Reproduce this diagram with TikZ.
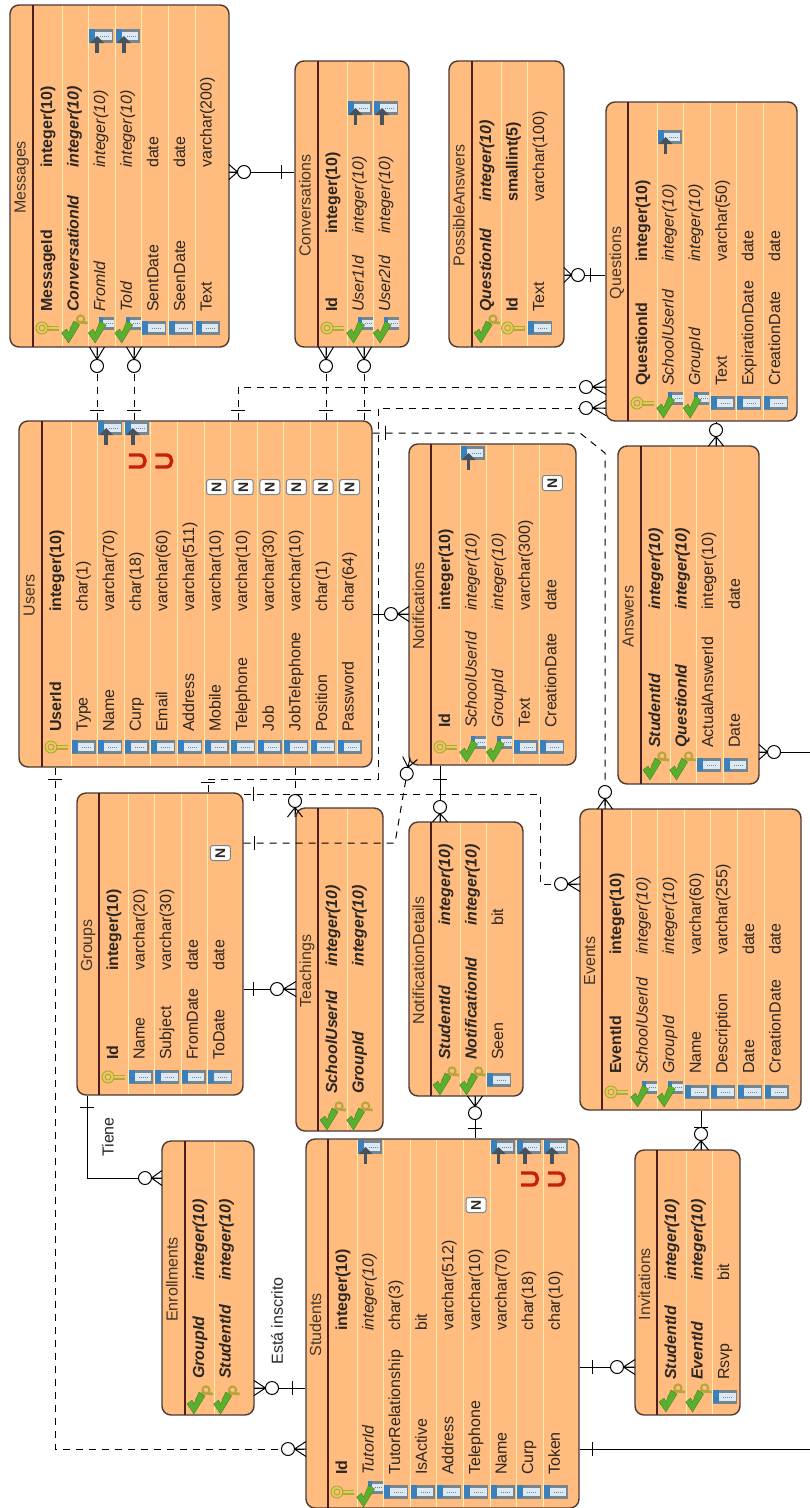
\documentclass[tikz,border=0pt]{standalone}
\usepackage{fontspec}
\setmainfont{Liberation Sans}
\definecolor{entfill}{HTML}{FFBC7E}
\definecolor{entline}{HTML}{4A3A35}
\definecolor{hdrline}{HTML}{4A1F22}
\definecolor{sepline}{HTML}{FFEFB0}
\definecolor{txt}{HTML}{2B2622}
\definecolor{titletxt}{HTML}{3F352C}
\definecolor{icoblue}{HTML}{3A80BC}
\definecolor{icoedge}{HTML}{76868F}
\definecolor{icolight}{HTML}{DCE8F4}
\definecolor{checkgreen}{HTML}{5BAF2E}
\definecolor{keyyellow}{HTML}{E0D05A}
\definecolor{keyolive}{HTML}{B4A63C}
\definecolor{fkarrow}{HTML}{47535C}
\definecolor{magred}{HTML}{C4200C}
\tikzset{
  ent/.style={draw=entline,fill=entfill,line width=1.4pt,rounded corners=9pt,inner sep=0pt,rectangle},
  hdr/.style={draw=hdrline,line width=1.2pt},
  sepl/.style={draw=sepline,line width=.8pt},
  rowtxt/.style={rotate=90,anchor=west,inner sep=0pt,text height=11.5pt,text depth=3.5pt,font=\fontsize{16}{18}\selectfont,text=txt},
  ttl/.style={rotate=90,inner sep=0pt,text height=11.5pt,text depth=3.5pt,font=\fontsize{16}{18}\selectfont,text=titletxt},
  rel/.style={draw=black,line width=1pt},
  reld/.style={rel,dash pattern=on 7pt off 6pt},
  marktick/.style={draw=black,line width=1pt},
  lbl/.style={rotate=90,inner sep=0pt,font=\fontsize{16}{18}\selectfont,text=txt}
}
% icons
\newcommand\icocol[2]{\begin{scope}[shift={(#1,#2)}]
  \fill[icoedge] (-12,-7) rectangle (12,7);
  \fill[icoblue] (-12,-7) rectangle (-6,6);
  \fill[icolight] (-6,-4.5) rectangle (10.5,3.5);
  \draw[icoedge,line width=1pt,dash pattern=on 1pt off 1pt] (-2,0) -- (8,0);
\end{scope}}
\newcommand\icokey[2]{\begin{scope}[shift={(#1,#2)}]
  \draw[keyolive,line width=5pt] (-2,0) -- (11,0);
  \draw[keyyellow,line width=2.4pt] (-2,0) -- (10.5,0);
  \draw[keyyellow,line width=3pt] (-6,0) circle (4.4);
  \draw[keyolive,line width=1pt] (-6,0) circle (6);
  \draw[keyolive,line width=1pt] (-6,0) circle (2.9);
\end{scope}}
\newcommand\icocheck{\fill[checkgreen,draw=checkgreen!70!black,line width=.3pt] (-6,15) -- (-13,5) -- (-8,1) -- (-6,5) -- (-1,-7) -- (5,-3) -- cycle;}
\newcommand\icocf[2]{\begin{scope}[shift={(#1,#2)}]
  \fill[icoedge] (-2,-11) rectangle (13,2);
  \fill[icoblue] (-2,-11) rectangle (2,1);
  \fill[icolight] (2,-8) rectangle (13,-1);
  \draw[icoedge,line width=1pt,dash pattern=on 1pt off 1pt] (5,-4.5) -- (12,-4.5);
  \icocheck
\end{scope}}
\newcommand\icopf[2]{\begin{scope}[shift={(#1,#2)}]
  \draw[keyolive,line width=3.4pt] (-4,1) -- (4,-7);
  \draw[keyolive,line width=2.8pt] (4,-6) -- (13,-5);
  \draw[keyolive,line width=2pt] (6,-9) circle (3.6);
  \icocheck
\end{scope}}
\newcommand\icofk[2]{\begin{scope}[shift={(#1,#2)}]
  \fill[icoedge] (-12,-7) rectangle (12,7);
  \fill[icoblue] (-12,-7) rectangle (-6,6);
  \fill[icolight] (-6,-4.5) rectangle (10.5,3.5);
  \draw[icoedge,line width=1pt,dash pattern=on 1pt off 1pt] (-1,0) -- (8,0);
  \draw[fkarrow,line width=3.6pt] (-4,17) -- (-4,4);
  \fill[fkarrow] (-4,0) -- (-11,7) -- (3,7) -- cycle;
\end{scope}}
\newcommand\icomag[2]{\begin{scope}[shift={(#1,#2)}]
  \draw[magred,line width=3.4pt] (-8,-6) -- (3,-6) .. controls (10,-6) and (10,6) .. (3,6) -- (-8,6);
\end{scope}}
\newcommand\iconull[2]{\begin{scope}[shift={(#1,#2)}]
  \draw[fill=white,draw=icoedge,line width=1pt,rounded corners=2.5pt] (-10,-7.5) rectangle (10,7.5);
  \node[rotate=90,inner sep=0pt,text=txt,font=\fontsize{14}{14}\selectfont\bfseries] at (0,0) {N};
\end{scope}}
% entity: name,x0,y0,x1,y1,hx,rows,title
\newcommand\entity[8]{%
  \node[ent,minimum width={(#4-#2)*1pt},minimum height={(#5-#3)*1pt}] (#1) at ({(#2+#4)/2},{(#3+#5)/2}) {};
  \draw[hdr] (#6,#3) -- (#6,#5);
  \foreach \i in {1,...,#7} {\ifnum\i<#7\relax \draw[sepl] ({#6+29+26.6*(\i-1)},#3+0.8) -- ({#6+29+26.6*(\i-1)},#5-0.8);\fi}
  \node[ttl] at ({(#2+#6)/2},{(#3+#5)/2+1.5}) {#8};
  \def\curhx{#6}%
}
\newcommand\bases[3]{\def\nbpos{#1}\def\tbpos{#2}\def\ibpos{#3}}
\newcommand\rowx[1]{\curhx+15+26.6*(#1-1)}
\newcommand\rowP[3]{\pgfmathsetmacro\xx{\rowx{#1}}\icokey{\xx}{\ibpos}\node[rowtxt,font=\fontsize{16}{18}\selectfont\bfseries] at (\xx,\nbpos) {#2};\node[rowtxt,font=\fontsize{16}{18}\selectfont\bfseries] at (\xx,\tbpos) {#3};}
\newcommand\rowB[3]{\pgfmathsetmacro\xx{\rowx{#1}}\icopf{\xx}{\ibpos}\node[rowtxt,font=\fontsize{16}{18}\selectfont\bfseries\itshape] at (\xx,\nbpos) {#2};\node[rowtxt,font=\fontsize{16}{18}\selectfont\bfseries\itshape] at (\xx,\tbpos) {#3};}
\newcommand\rowF[3]{\pgfmathsetmacro\xx{\rowx{#1}}\icocf{\xx}{\ibpos}\node[rowtxt,font=\fontsize{16}{18}\selectfont\itshape] at (\xx,\nbpos) {#2};\node[rowtxt,font=\fontsize{16}{18}\selectfont\itshape] at (\xx,\tbpos) {#3};}
\newcommand\rowC[3]{\pgfmathsetmacro\xx{\rowx{#1}}\icocol{\xx}{\ibpos}\node[rowtxt] at (\xx,\nbpos) {#2};\node[rowtxt] at (\xx,\tbpos) {#3};}
\newcommand\topfk[2]{\pgfmathsetmacro\xx{\rowx{#1}}\icofk{\xx}{#2}}
\newcommand\topu[2]{\pgfmathsetmacro\xx{\rowx{#1}}\icomag{\xx}{#2}}
\newcommand\topn[2]{\pgfmathsetmacro\xx{\rowx{#1}}\iconull{\xx}{#2}}
% crow: x,y,angle,dist
\newcommand\crow[4]{\begin{scope}[shift={(#1,#2)},rotate=#3]
  \pgfmathsetmacro\apexd{#4-6.5}
  \draw[rel] (0,7.5) -- (\apexd,0) -- (0,-7.5) (0,0) -- (\apexd,0);
  \draw[rel,fill=white] (#4,0) circle (6.5);
\end{scope}}
\newcommand\tickv[2]{\draw[marktick] (#1,#2-7) -- (#1,#2+7);}
\newcommand\tickh[2]{\draw[marktick] (#1-7,#2) -- (#1+7,#2);}
\begin{document}
\begin{tikzpicture}[x=1pt,y=-1pt]
\useasboundingbox[fill=white] (0,0) rectangle (810,1508);
% ---------- Entities
\entity{Messages}{10}{5}{229}{347}{33}{7}{Messages}
\bases{312}{168}{328}
\rowP{1}{MessageId}{integer(10)}
\rowB{2}{ConversationId}{integer(10)}
\rowF{3}{FromId}{integer(10)}
\rowF{4}{ToId}{integer(10)}
\rowC{5}{SentDate}{date}
\rowC{6}{SeenDate}{date}
\rowC{7}{Text}{varchar(200)}
\topfk{3}{36}\topfk{4}{36}

\entity{Conversations}{295}{61}{409}{347}{318}{3}{Conversations}
\bases{312}{234}{328}
\rowP{1}{Id}{integer(10)}
\rowF{2}{User1Id}{integer(10)}
\rowF{3}{User2Id}{integer(10)}
\topfk{2}{108}\topfk{3}{108}

\entity{PossibleAnswers}{449}{61}{564}{347}{472}{3}{PossibleAnswers}
\bases{312}{202}{328}
\rowB{1}{QuestionId}{integer(10)}
\rowP{2}{Id}{smallint(5)}
\rowC{3}{Text}{varchar(100)}

\entity{Questions}{606}{102}{797}{421}{628}{6}{Questions}
\bases{386}{262}{403}
\rowP{1}{QuestionId}{integer(10)}
\rowF{2}{SchoolUserId}{integer(10)}
\rowF{3}{GroupId}{integer(10)}
\rowC{4}{Text}{varchar(50)}
\rowC{5}{ExpirationDate}{date}
\rowC{6}{CreationDate}{date}
\topfk{2}{137}

\entity{Users}{19}{421}{372}{767}{42}{12}{Users}
\bases{732}{612}{747}
\rowP{1}{UserId}{integer(10)}
\rowC{2}{Type}{char(1)}
\rowC{3}{Name}{varchar(70)}
\rowC{4}{Curp}{char(18)}
\rowC{5}{Email}{varchar(60)}
\rowC{6}{Address}{varchar(511)}
\rowC{7}{Mobile}{varchar(10)}
\rowC{8}{Telephone}{varchar(10)}
\rowC{9}{Job}{varchar(30)}
\rowC{10}{JobTelephone}{varchar(10)}
\rowC{11}{Position}{char(1)}
\rowC{12}{Password}{char(64)}
\topfk{3}{428}\topfk{4}{428}
\topu{4}{461}\topu{5}{461}
\topn{7}{487}\topn{8}{487}\topn{9}{487}\topn{10}{487}\topn{11}{487}\topn{12}{487}

\entity{Notifications}{409}{444}{576}{765}{431}{5}{Notifications}
\bases{728}{611}{747}
\rowP{1}{Id}{integer(10)}
\rowF{2}{SchoolUserId}{integer(10)}
\rowF{3}{GroupId}{integer(10)}
\rowC{4}{Text}{varchar(300)}
\rowC{5}{CreationDate}{date}
\topfk{2}{453}\topn{5}{483}

\entity{Answers}{618}{446}{759}{784}{641}{4}{Answers}
\bases{748}{610}{765}
\rowB{1}{StudentId}{integer(10)}
\rowB{2}{QuestionId}{integer(10)}
\rowC{3}{ActualAnswerId}{integer(10)}
\rowC{4}{Date}{date}

\entity{Groups}{77}{793}{243}{1095}{99}{5}{Groups}
\bases{1060}{971}{1077}
\rowP{1}{Id}{integer(10)}
\rowC{2}{Name}{varchar(20)}
\rowC{3}{Subject}{varchar(30)}
\rowC{4}{FromDate}{date}
\rowC{5}{ToDate}{date}
\topn{5}{853}

\entity{Teachings}{296}{808}{383}{1131}{318}{2}{Teachings}
\bases{1094}{967}{1115}
\rowB{1}{SchoolUserId}{integer(10)}
\rowB{2}{GroupId}{integer(10)}

\entity{NotificationDetails}{409}{822}{523}{1096}{431}{3}{NotificationDetails}
\bases{1060}{926}{1080}
\rowB{1}{StudentId}{integer(10)}
\rowB{2}{NotificationId}{integer(10)}
\rowC{3}{Seen}{bit}

\entity{Events}{580}{809}{801}{1110}{602}{7}{Events}
\bases{1074}{955}{1092}
\rowP{1}{EventId}{integer(10)}
\rowF{2}{SchoolUserId}{integer(10)}
\rowF{3}{GroupId}{integer(10)}
\rowC{4}{Name}{varchar(60)}
\rowC{5}{Description}{varchar(255)}
\rowC{6}{Date}{date}
\rowC{7}{CreationDate}{date}

\entity{Enrollments}{162}{1141}{254}{1415}{185}{2}{Enrollments}
\bases{1379}{1281}{1399}
\rowB{1}{GroupId}{integer(10)}
\rowB{2}{StudentId}{integer(10)}

\entity{Students}{306}{1139}{579}{1508}{328}{9}{Students}
\bases{1475}{1331}{1492}
\rowP{1}{Id}{integer(10)}
\rowF{2}{TutorId}{integer(10)}
\rowC{3}{TutorRelationship}{char(3)}
\rowC{4}{IsActive}{bit}
\rowC{5}{Address}{varchar(512)}
\rowC{6}{Telephone}{varchar(10)}
\rowC{7}{Name}{varchar(70)}
\rowC{8}{Curp}{char(18)}
\rowC{9}{Token}{char(10)}
\topfk{2}{1147}\topfk{7}{1147}\topfk{8}{1147}\topfk{9}{1147}
\topu{8}{1179}\topu{9}{1179}
\topn{6}{1205}

\entity{Invitations}{635}{1150}{740}{1415}{657}{3}{Invitations}
\bases{1380}{1281}{1397}
\rowB{1}{StudentId}{integer(10)}
\rowB{2}{EventId}{integer(10)}
\rowC{3}{Rsvp}{bit}

% ---------- Connectors
\coordinate (exitAnswers) at (810,752);
\coordinate (exitStudents) at (810,1449);
\draw[rel] (Messages.east |- 0,172) -- (Conversations.west |- 0,172);
\crow{229}{172}{0}{15}\tickv{281}{172}

\draw[reld] (97,0 |- Messages.south) -- (97,0 |- Users.north);
\crow{97}{347}{270}{19}\tickh{97}{410}
\draw[reld] (134,0 |- Messages.south) -- (134,0 |- Users.north);
\crow{134}{347}{270}{19}\tickh{134}{410}
\draw[reld] (326,0 |- Conversations.south) -- (326,0 |- Users.north);
\crow{326}{347}{270}{19}\tickh{326}{410}
\draw[reld] (364,0 |- Conversations.south) -- (364,0 |- Users.north);
\crow{364}{347}{270}{19}\tickh{364}{410}

\draw[reld] (238,0 |- Users.north) -- (238,387) -- (Questions.west |- 0,387);
\tickh{238}{410}\crow{606}{387}{180}{20}

\draw[reld] (208,0 |- Groups.north) -- (208,779) -- (378,779) -- (378,408) -- (Questions.west |- 0,408);
\tickh{208}{782}\crow{606}{408}{180}{20}

\draw[reld] (Users.east |- 0,433) -- (580,433) -- (605,453) -- (605,0 |- Events.north);
\tickv{385}{433}\crow{605}{809}{90}{17}

\draw[rel] (Users.east |- 0,614) -- (Notifications.west |- 0,614);
\draw[marktick] (378,610) -- (378,618);
\crow{409}{614}{180}{18}

\draw[reld] (55,0 |- Users.south) -- (55,1449) -- (Students.west |- 0,1449);
\tickh{55}{779}\crow{306}{1449}{180}{18}

\draw[reld] (295,0 |- Users.south) -- (295,817);
\tickh{295}{779}\crow{295}{817}{90}{16}

\draw[reld] (Groups.east |- 0,794) -- (540,794) -- (540,884) -- (Events.west |- 0,884);
\tickv{253}{794}\crow{580}{884}{180}{19}

\draw[reld] (Groups.east |- 0,843) -- (395,843) -- (407,773);
\tickv{254}{843}\crow{410}{758}{258}{16}

\draw[rel] (Groups.east |- 0,989) -- (Teachings.west |- 0,989);
\tickv{253}{989}\crow{296}{989}{180}{19}

\draw[rel] (440,0 |- Notifications.south) -- (440,0 |- NotificationDetails.north);
\tickh{440}{779}\crow{440}{822}{90}{15}

\draw[rel] (475,0 |- NotificationDetails.south) -- (475,0 |- Students.north);
\crow{475}{1096}{270}{17}\tickh{475}{1128}

\draw[rel] (701,0 |- Events.south) -- (701,0 |- Invitations.north);
\tickh{701}{1127}\crow{701}{1150}{90}{16}

\draw[rel] (Students.east |- 0,1367) -- (Invitations.west |- 0,1367);
\tickv{592}{1367}\crow{635}{1367}{180}{18}

\draw[rel] (Students.east |- 0,1449) -- (exitStudents);
\tickv{592}{1449}

\draw[rel] (Answers.east |- 0,752) -- (exitAnswers);
\crow{759}{752}{0}{15}

\draw[rel] (716,0 |- Questions.south) -- (716,0 |- Answers.north);
\crow{716}{446}{90}{16}

\draw[rel] (PossibleAnswers.east |- 0,275) -- (Questions.west |- 0,275);
\crow{564}{275}{0}{14}\tickv{590}{275}

\draw[rel] (87,0 |- Groups.south) -- (87,1178) -- (Enrollments.west |- 0,1178);
\tickh{87}{1107}\crow{162}{1178}{180}{17}
\node[lbl] (labelTiene) at (108,1137) {Tiene};

\draw[rel] (Enrollments.east |- 0,1388) -- (Students.west |- 0,1388);
\crow{254}{1388}{0}{18}\tickv{292}{1388}
\node[lbl] (labelInscrito) at (277,1321) {Está inscrito};
\end{tikzpicture}
\end{document}
